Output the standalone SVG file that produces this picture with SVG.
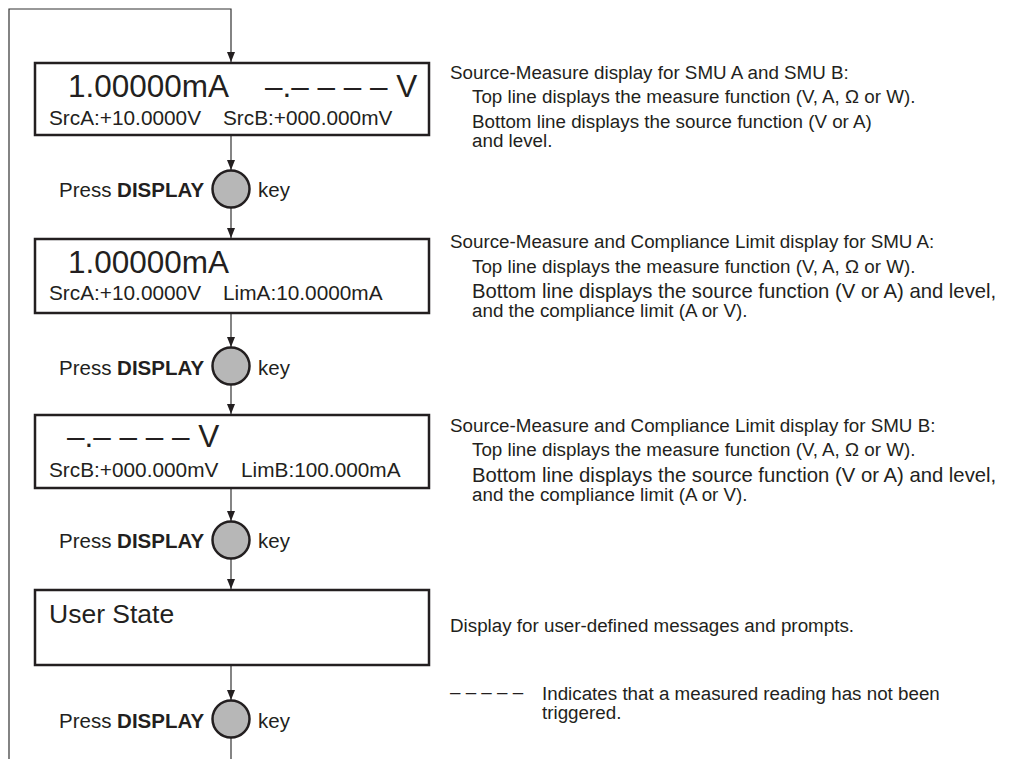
<svg xmlns="http://www.w3.org/2000/svg" width="1029" height="759" viewBox="0 0 1029 759">
<style>
text{font-family:"Liberation Sans",Arial,sans-serif;fill:#231f20}
.box{fill:#fff;stroke:#231f20;stroke-width:2.5}
.big{font-size:31.5px}
.sm{font-size:20.8px}
.lbl{font-size:20.5px}
.b{font-weight:bold}
.key{fill:#b7b7b7;stroke:#231f20;stroke-width:2.5}
.ln{fill:none;stroke:#333;stroke-width:1.2}
.desc{font-size:18.8px}
.wide{font-size:20.3px}
</style>
<defs>
<marker id="ah" viewBox="0 0 10 8" refX="10" refY="4" markerWidth="10" markerHeight="8" markerUnits="userSpaceOnUse" orient="auto">
<path d="M0,0 L10,4 L0,8 Z" fill="#231f20"/>
</marker>
</defs>
<rect width="1029" height="759" fill="#fff"/>
<g id="connectors">
<path class="ln" d="M9,759 V9 H231 V62" marker-end="url(#ah)"/>
<line class="ln" x1="231" y1="136" x2="231" y2="170" marker-end="url(#ah)"/>
<line class="ln" x1="231" y1="208" x2="231" y2="238" marker-end="url(#ah)"/>
<line class="ln" x1="231" y1="314" x2="231" y2="347" marker-end="url(#ah)"/>
<line class="ln" x1="231" y1="385" x2="231" y2="414" marker-end="url(#ah)"/>
<line class="ln" x1="231" y1="489" x2="231" y2="521" marker-end="url(#ah)"/>
<line class="ln" x1="231" y1="559" x2="231" y2="589" marker-end="url(#ah)"/>
<line class="ln" x1="231" y1="666" x2="231" y2="700" marker-end="url(#ah)"/>
<line class="ln" x1="231" y1="738" x2="231" y2="759"/>
</g>
<g id="box1">
<rect class="box" x="35" y="63" width="394" height="72"/>
<text class="big" x="68" y="97">1.00000mA</text>
<text class="big" x="265" y="97">–.– – – – V</text>
<text class="sm" x="49" y="125">SrcA:+10.0000V</text>
<text class="sm" x="223" y="125">SrcB:+000.000mV</text>
</g>
<g id="key1">
<circle class="key" cx="231" cy="189" r="18.5"/>
<text class="lbl" x="59" y="197">Press <tspan class="b">DISPLAY</tspan></text>
<text class="lbl" x="258" y="197">key</text>
</g>
<g id="box2">
<rect class="box" x="35" y="239" width="394" height="74"/>
<text class="big" x="68" y="273">1.00000mA</text>
<text class="sm" x="49" y="300">SrcA:+10.0000V</text>
<text class="sm" x="223" y="300">LimA:10.0000mA</text>
</g>
<g id="key2">
<circle class="key" cx="231" cy="366" r="18.5"/>
<text class="lbl" x="59" y="375">Press <tspan class="b">DISPLAY</tspan></text>
<text class="lbl" x="258" y="375">key</text>
</g>
<g id="box3">
<rect class="box" x="35" y="415" width="394" height="73"/>
<text class="big" x="67" y="447">–.– – – – V</text>
<text class="sm" x="49" y="477">SrcB:+000.000mV</text>
<text class="sm" x="241" y="477">LimB:100.000mA</text>
</g>
<g id="key3">
<circle class="key" cx="231" cy="540" r="18.5"/>
<text class="lbl" x="59" y="548">Press <tspan class="b">DISPLAY</tspan></text>
<text class="lbl" x="258" y="548">key</text>
</g>
<g id="box4">
<rect class="box" x="35" y="590" width="394" height="75"/>
<text x="49" y="623" style="font-size:26.5px">User State</text>
</g>
<g id="key4">
<circle class="key" cx="231" cy="719" r="18.5"/>
<text class="lbl" x="59" y="728">Press <tspan class="b">DISPLAY</tspan></text>
<text class="lbl" x="258" y="728">key</text>
</g>
<g id="desc1">
<text class="desc" x="450" y="79">Source-Measure display for SMU A and SMU B:</text>
<text class="desc" x="472" y="103">Top line displays the measure function (V, A,  Ω or W).</text>
<text class="desc" x="472" y="128">Bottom line displays the source function (V or A)</text>
<text class="desc" x="472" y="147">and level.</text>
</g>
<g id="desc2">
<text class="desc" x="450" y="248">Source-Measure and Compliance Limit display for SMU A:</text>
<text class="desc" x="472" y="273">Top line displays the measure function (V, A, Ω or W).</text>
<text class="wide" x="472" y="298">Bottom line displays the source function (V or A) and level,</text>
<text class="desc" x="472" y="317">and the compliance limit (A or V).</text>
</g>
<g id="desc3">
<text class="desc" x="450" y="432">Source-Measure and Compliance Limit display for SMU B:</text>
<text class="desc" x="472" y="456">Top line displays the measure function (V, A, Ω or W).</text>
<text class="wide" x="472" y="482">Bottom line displays the source function (V or A) and level,</text>
<text class="desc" x="472" y="501">and the compliance limit (A or V).</text>
</g>
<g id="desc4">
<text class="desc" x="450" y="698">– – – – –</text>
<text class="desc" x="450" y="632">Display for user-defined messages and prompts.</text>
<text class="desc" x="542" y="700">Indicates that a measured reading has not been</text>
<text class="desc" x="542" y="719">triggered.</text>
</g>
</svg>
